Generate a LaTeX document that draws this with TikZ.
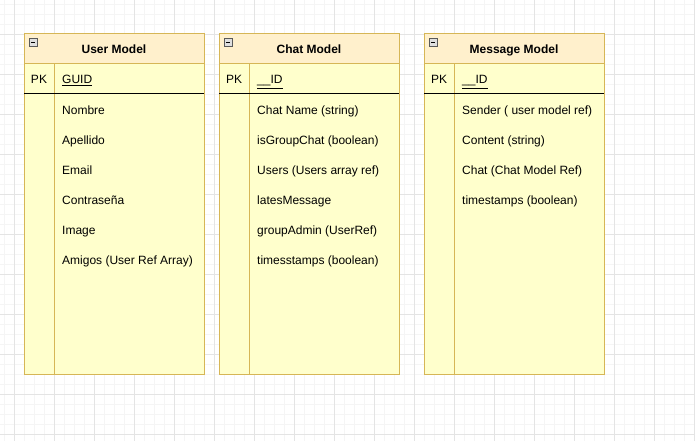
\documentclass[tikz,border=0pt]{standalone}
\usepackage{fontspec}
\setmainfont{Liberation Sans}
\definecolor{hdr}{HTML}{FFF0CC}
\definecolor{body}{HTML}{FFFFCC}
\definecolor{strk}{HTML}{D6B656}
\definecolor{gmaj}{HTML}{E4E4E4}
\definecolor{gmin}{HTML}{F5F5F5}
\tikzset{
  tbltitle/.style={font=\fontsize{12}{14}\selectfont\bfseries, inner sep=0pt, anchor=base},
  fieldtxt/.style={font=\fontsize{12}{14}\selectfont, anchor=base west, inner sep=0pt},
  pktxt/.style={font=\fontsize{12}{14}\selectfont, inner sep=0pt, anchor=base},
  frame/.style={draw=strk, line width=1pt},
}
\newcommand{\mytable}[6]{%
  \fill[body] (#1,64) rectangle ++(180,310);
  \fill[hdr] (#1,34) rectangle ++(180,30);
  \draw[frame] (#1,34) rectangle ++(180,340);
  \draw[frame] (#1,64) -- ++(180,0);
  \draw[frame] (#1+30,64) -- (#1+30,374);
  \draw[black, line width=1pt] (#1,94) -- ++(180,0);
  \node[tbltitle] (#2title) at (#1+90,54) {#3};
  \node[pktxt] (#2pk) at (#1+15,84) {PK};
  \node[fieldtxt] (#2key) at (#1+38,84) {\underline{#4}};
  \foreach \t [count=\i] in {#5} {
    \node[fieldtxt] (#2f\i) at (#1+38,84+30*\i) {\t};
  }
  \draw[fill=gray!25, draw=gray!70!black, line width=0.6pt] (#1+5,38) rectangle ++(8,8);
  \draw[black, line width=0.9pt] (#1+6.8,42) -- ++(4.4,0);
  #6
}
\begin{document}
\begin{tikzpicture}[x=1pt,y=-1pt]
\useasboundingbox (0,0) rectangle (695,441);
\fill[white] (0,0) rectangle (695,441);
\foreach \x in {4,14,...,694} \draw[gmin, line width=0.6pt] (\x,0) -- (\x,441);
\foreach \y in {4,14,...,440} \draw[gmin, line width=0.6pt] (0,\y) -- (695,\y);
\foreach \x in {14,54,...,694} \draw[gmaj, line width=0.8pt] (\x,0) -- (\x,441);
\foreach \y in {34,74,...,440} \draw[gmaj, line width=0.8pt] (0,\y) -- (695,\y);
\mytable{24}{user}{User Model}{GUID}{Nombre,Apellido,Email,Contraseña,Image,Amigos (User Ref Array)}{}
\mytable{219}{chat}{Chat Model}{\_\_ID}{Chat Name (string),isGroupChat (boolean),Users (Users array ref),latesMessage,groupAdmin (UserRef),timesstamps (boolean)}{}
\mytable{424}{msg}{Message Model}{\_\_ID}{Sender ( user model ref),Content (string),Chat (Chat Model Ref),timestamps (boolean)}{}
\end{tikzpicture}
\end{document}
